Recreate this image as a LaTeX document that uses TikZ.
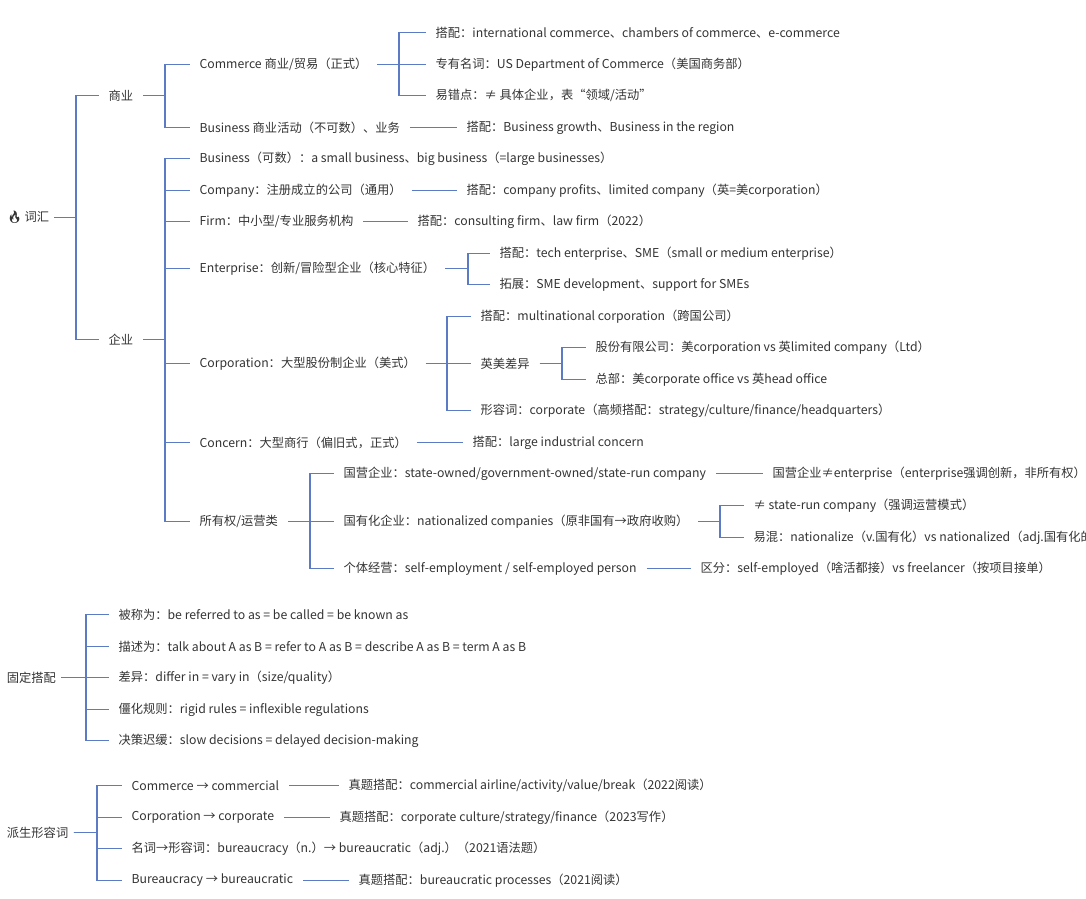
\documentclass[tikz,border=0pt]{standalone}
\usepackage{fontspec}
\setmainfont{Noto Sans CJK SC}
\newfontfamily\emojifont{Noto Emoji}
\definecolor{ln}{HTML}{5B7BC4}
\definecolor{tx}{HTML}{333333}
\begin{document}
\begin{tikzpicture}[x=0.75pt,y=-0.75pt,
  t/.style={anchor=west,inner sep=0pt,outer xsep=7.5pt,xshift=-1.8pt,yshift=-1.1pt,font=\fontsize{9.2pt}{11pt}\selectfont,text=tx},
  c/.style={draw=ln,line width=1.1pt}]
\useasboundingbox (0,0) rectangle (1086,899);
\clip (0,0) rectangle (1086,899);
% spines
\foreach \n/\x in {S0/76,S1/165,S2/399,S3/165,S4/468,S5/447,S6/562,S7/310,S8/720,S9/86,S10/97}
  \coordinate (\n) at (\x,0);
\node[t,outer xsep=4pt] (root) at (4,216) {{\emojifont 🔥}\,词汇};
\node[t] (sy) at (101,94) {商业};
\node[t] (qy) at (101,338) {企业};
\node[t] (com) at (192,63) {Commerce 商业/贸易（正式）};
\node[t] (c1) at (428,31) {搭配：international commerce、chambers of commerce、e-commerce};
\node[t] (c2) at (428,63) {专有名词：US Department of Commerce（美国商务部）};
\node[t] (c3) at (428,94) {易错点：≠ 具体企业，表“领域/活动”};
\node[t] (bus) at (192,126) {Business 商业活动（不可数）、业务};
\node[t] (b1) at (459,126) {搭配：Business growth、Business in the region};
\node[t] (e1) at (192,157) {Business（可数）：a small business、big business（=large businesses）};
\node[t] (e2) at (192,189) {Company：注册成立的公司（通用）};
\node[t] (e2a) at (459,189) {搭配：company profits、limited company（英=美corporation）};
\node[t] (e3) at (192,220) {Firm：中小型/专业服务机构};
\node[t] (e3a) at (410,220) {搭配：consulting firm、law firm（2022）};
\node[t] (e4) at (192,267) {Enterprise：创新/冒险型企业（核心特征）};
\node[t] (e4a) at (492,252) {搭配：tech enterprise、SME（small or medium enterprise）};
\node[t] (e4b) at (492,283) {拓展：SME development、support for SMEs};
\node[t] (e5) at (192,362) {Corporation：大型股份制企业（美式）};
\node[t] (e5a) at (473,315) {搭配：multinational corporation（跨国公司）};
\node[t] (e5b) at (473,362) {英美差异};
\node[t] (e5b1) at (588,346) {股份有限公司：美corporation vs 英limited company（Ltd）};
\node[t] (e5b2) at (588,378) {总部：美corporate office vs 英head office};
\node[t] (e5c) at (473,409) {形容词：corporate（高频搭配：strategy/culture/finance/headquarters）};
\node[t] (e6) at (192,441) {Concern：大型商行（偏旧式，正式）};
\node[t] (e6a) at (465,441) {搭配：large industrial concern};
\node[t] (e7) at (192,520) {所有权/运营类};
\node[t] (o1) at (336,472) {国营企业：state-owned/government-owned/state-run company};
\node[t] (o1a) at (765,472) {国营企业≠enterprise（enterprise强调创新，非所有权）};
\node[t] (o2) at (336,520) {国有化企业：nationalized companies（原非国有→政府收购）};
\node[t] (o2a) at (746,504) {≠ state-run company（强调运营模式）};
\node[t] (o2b) at (746,536) {易混：nationalize（v.国有化）vs nationalized（adj.国有化的）};
\node[t] (o3) at (336,567) {个体经营：self-employment / self-employed person};
\node[t] (o3a) at (693,567) {区分：self-employed（啥活都接）vs freelancer（按项目接单）};
% fixed
\node[t,outer xsep=4pt] (gd) at (4,676) {固定搭配};
\node[t] (g1) at (111,613) {被称为：be referred to as = be called = be known as};
\node[t] (g2) at (111,645) {描述为：talk about A as B = refer to A as B = describe A as B = term A as B};
\node[t] (g3) at (111,676) {差异：differ in = vary in（size/quality）};
\node[t] (g4) at (111,708) {僵化规则：rigid rules = inflexible regulations};
\node[t] (g5) at (111,739) {决策迟缓：slow decisions = delayed decision-making};
% derived
\node[t,outer xsep=4pt] (ps) at (4,831) {派生形容词};
\node[t] (d1) at (124,784) {Commerce → commercial};
\node[t] (d1a) at (341,784) {真题搭配：commercial airline/activity/value/break（2022阅读）};
\node[t] (d2) at (124,816) {Corporation → corporate};
\node[t] (d2a) at (332,816) {真题搭配：corporate culture/strategy/finance（2023写作）};
\node[t] (d3) at (124,847) {名词→形容词：bureaucracy（n.）→ bureaucratic（adj.）（2021语法题）};
\node[t] (d4) at (124,879) {Bureaucracy → bureaucratic};
\node[t] (d4a) at (351,879) {真题搭配：bureaucratic processes（2021阅读）};
% connectors
\foreach \p/\s/\k in {root/S0/sy,root/S0/qy,sy/S1/com,sy/S1/bus,com/S2/c1,com/S2/c2,com/S2/c3,
  qy/S3/e1,qy/S3/e2,qy/S3/e3,qy/S3/e4,qy/S3/e5,qy/S3/e6,qy/S3/e7,
  e4/S4/e4a,e4/S4/e4b,e5/S5/e5a,e5/S5/e5b,e5/S5/e5c,e5b/S6/e5b1,e5b/S6/e5b2,
  e7/S7/o1,e7/S7/o2,e7/S7/o3,o2/S8/o2a,o2/S8/o2b,
  gd/S9/g1,gd/S9/g2,gd/S9/g3,gd/S9/g4,gd/S9/g5,
  ps/S10/d1,ps/S10/d2,ps/S10/d3,ps/S10/d4}
  \draw[c] (\p.east) -- (\p.east -| \s) |- (\k.west);
\foreach \p/\k in {bus/b1,e2/e2a,e3/e3a,e6/e6a,o1/o1a,o3/o3a,d1/d1a,d2/d2a,d4/d4a}
  \draw[c] (\p.east) -- (\k.west);
\end{tikzpicture}
\end{document}
